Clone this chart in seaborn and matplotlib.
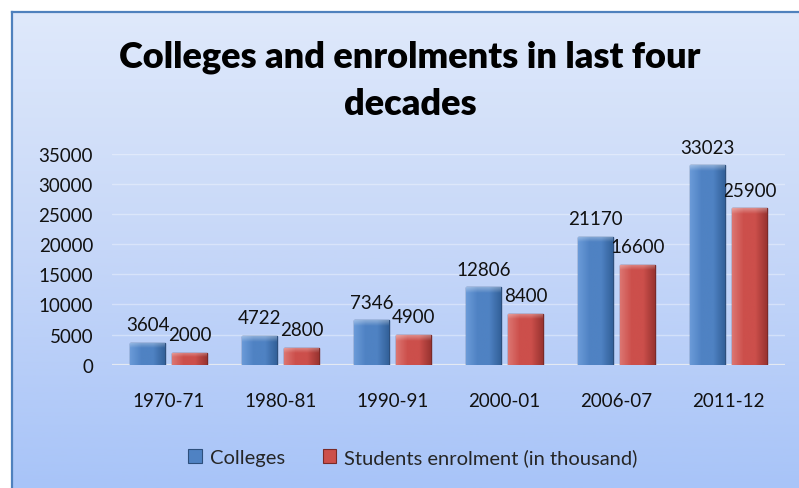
import numpy as np
import pandas as pd
import matplotlib
matplotlib.use("Agg")
import matplotlib.pyplot as plt
from matplotlib.colors import LinearSegmentedColormap
import seaborn as sns

# Chart data
periods = ["1970-71", "1980-81", "1990-91", "2000-01", "2006-07", "2011-12"]
colleges = [3604, 4722, 7346, 12806, 21170, 33023]
enrolment = [2000, 2800, 4900, 8400, 16600, 25900]
series_names = ["Colleges", "Students enrolment (in thousand)"]
y_ticks = [0, 5000, 10000, 15000, 20000, 25000, 30000, 35000]
title_lines = ["Colleges and enrolments in last four", "decades"]

sns.set_theme(style="white")
plt.rcParams["font.family"] = ["Lato", "DejaVu Sans"]

W, H = 799, 489


def fx(px):
    return px / W


def fy(py):
    return 1 - py / H


def draw_background(fig):
    # light blue vertical gradient panel with a blue frame on the left / top
    bg = fig.add_axes([fx(12), 0, 1 - fx(12), fy(13)], zorder=-10)
    cmap = LinearSegmentedColormap.from_list("bg", ["#dfe9fb", "#c6d7f8", "#a8c4f8"])
    grad = np.linspace(0, 1, 256).reshape(-1, 1)
    bg.imshow(grad, cmap=cmap, aspect="auto", extent=[0, 1, 0, 1], origin="upper")
    bg.set_xticks([])
    bg.set_yticks([])
    for side in ["right", "bottom"]:
        bg.spines[side].set_visible(False)
    for side in ["left", "top"]:
        bg.spines[side].set_color("#4f81bd")
        bg.spines[side].set_linewidth(1.6)
    return bg


def shade_bars(ax, colors):
    # cylinder-like horizontal gradient clipped to each bar
    for container, (light, mid, dark, edge) in zip(ax.containers, colors):
        cmap = LinearSegmentedColormap.from_list("bar", [light, mid, mid, dark])
        grad = np.linspace(0, 1, 64).reshape(1, -1)
        for patch in container.patches:
            x, y = patch.get_x(), patch.get_y()
            w, h = patch.get_width(), patch.get_height()
            patch.set_edgecolor(edge)
            patch.set_linewidth(1.0)
            im = ax.imshow(grad, cmap=cmap, aspect="auto",
                           extent=[x, x + w, y, y + h], zorder=patch.get_zorder() + 0.1)
            im.set_clip_path(patch)
            # lighter bevel along the top of the bar
            bev = min(900, h * 0.4)
            top = ax.imshow(np.linspace(1, 0, 32).reshape(-1, 1), cmap=LinearSegmentedColormap.from_list(
                "bev", [(1, 1, 1, 0), (1, 1, 1, 0.35)]), aspect="auto",
                extent=[x, x + w, y + h - bev, y + h], zorder=patch.get_zorder() + 0.2)
            top.set_clip_path(patch)


fig = plt.figure(figsize=(W / 100, H / 100), dpi=100)
fig.patch.set_facecolor("white")
draw_background(fig)

ax = fig.add_axes([fx(112.5), fy(365.7), fx(672), 211.2 / H])
ax.set_facecolor("none")

df = pd.DataFrame({
    "period": periods * 2,
    "value": colleges + enrolment,
    "series": [series_names[0]] * len(periods) + [series_names[1]] * len(periods),
})

palette = {series_names[0]: "#4f82c3", series_names[1]: "#cc4f4b"}
sns.barplot(data=df, x="period", y="value", hue="series", palette=palette,
            width=0.75, gap=0.167, ax=ax, legend=False, zorder=3)

shade_bars(ax, [
    ("#6a9ad8", "#4f82c3", "#33619a", "#2d4f7c"),
    ("#dc7571", "#cc4f4b", "#9a3431", "#7a2a28"),
])

for container in ax.containers:
    ax.bar_label(container, labels=[f"{v:.0f}" for v in container.datavalues],
                 padding=7, fontsize=13.5, color="#111111")

ax.set_xlim(-0.5, len(periods) - 0.5)
ax.set_ylim(0, 35000)
ax.set_yticks(y_ticks)
ax.set_yticklabels([str(t) for t in y_ticks])
ax.tick_params(axis="y", length=0, pad=14, labelsize=13.5, labelcolor="#111111")
ax.tick_params(axis="x", length=0, pad=20, labelsize=13.5, labelcolor="#111111")
ax.set_xlabel("")
ax.set_ylabel("")
ax.yaxis.grid(True, color="white", alpha=0.35, lw=1)
ax.set_axisbelow(True)
sns.despine(ax=ax, left=True, bottom=True)
ax.axhline(0, color="#e4e9f2", lw=1.6, zorder=2)

# title, two centred lines
fig.text(fx(410), fy(68), title_lines[0], ha="center", va="baseline",
         fontsize=26, fontweight="heavy", color="black")
fig.text(fx(410), fy(115), title_lines[1], ha="center", va="baseline",
         fontsize=26, fontweight="heavy", color="black")

# legend with small square swatches
handles = [plt.Rectangle((0, 0), 1, 1, facecolor=palette[s],
                         edgecolor=("#2d4f7c" if i == 0 else "#7a2a28"), lw=0.8)
           for i, s in enumerate(series_names)]
fig.legend(handles, series_names, loc="center", bbox_to_anchor=(fx(413), fy(458)),
           ncol=2, frameon=False, fontsize=14.5, handlelength=0.65, handleheight=0.65,
           handletextpad=0.4, columnspacing=1.9)

fig.savefig("out.png", dpi=100)
